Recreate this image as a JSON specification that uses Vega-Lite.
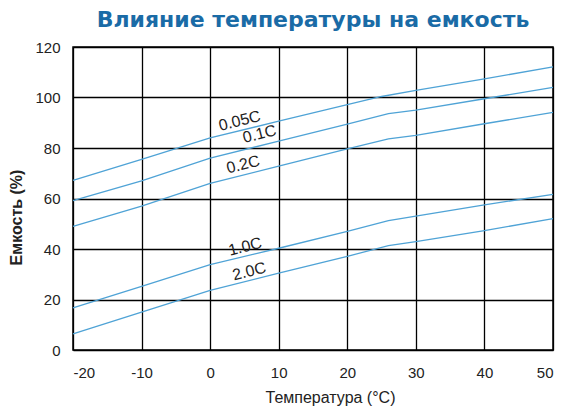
{
  "$schema": "https://vega.github.io/schema/vega-lite/v6.json",
  "autosize": "none",
  "width": 480,
  "height": 303,
  "padding": {"left": 73, "top": 47, "right": 22, "bottom": 60},
  "background": "white",
  "title": {
    "text": "Влияние температуры на емкость",
    "anchor": "middle",
    "font": "DejaVu Sans",
    "fontSize": 22,
    "fontWeight": "bold",
    "color": "#1a6ba6",
    "baseline": "alphabetic",
    "offset": -9
  },
  "config": {
    "view": {"stroke": "black", "strokeWidth": 1.5},
    "axis": {
      "labelFont": "Liberation Sans",
      "labelFontSize": 15,
      "labelColor": "#222",
      "titleFont": "Liberation Sans",
      "titleFontSize": 16,
      "titleFontWeight": "normal",
      "titleColor": "#222",
      "grid": true,
      "gridColor": "black",
      "gridOpacity": 1,
      "gridWidth": 1.3,
      "ticks": false,
      "domain": false
    }
  },
  "datasets": {
    "curves": [
      {"t": -20, "c": 67.2, "s": "0.05C"}, {"t": -10, "c": 75.5, "s": "0.05C"}, {"t": 0, "c": 84, "s": "0.05C"}, {"t": 10, "c": 90.6, "s": "0.05C"}, {"t": 20, "c": 97.2, "s": "0.05C"}, {"t": 25, "c": 100.4, "s": "0.05C"}, {"t": 30, "c": 102.8, "s": "0.05C"}, {"t": 40, "c": 107.4, "s": "0.05C"}, {"t": 50, "c": 112.1, "s": "0.05C"},
      {"t": -20, "c": 59.2, "s": "0.1C"}, {"t": -10, "c": 67, "s": "0.1C"}, {"t": 0, "c": 76, "s": "0.1C"}, {"t": 10, "c": 82.7, "s": "0.1C"}, {"t": 20, "c": 89.5, "s": "0.1C"}, {"t": 26, "c": 93.6, "s": "0.1C"}, {"t": 30, "c": 95, "s": "0.1C"}, {"t": 40, "c": 99.5, "s": "0.1C"}, {"t": 50, "c": 104, "s": "0.1C"},
      {"t": -20, "c": 49, "s": "0.2C"}, {"t": -10, "c": 57, "s": "0.2C"}, {"t": 0, "c": 66, "s": "0.2C"}, {"t": 10, "c": 72.8, "s": "0.2C"}, {"t": 20, "c": 79.7, "s": "0.2C"}, {"t": 26, "c": 83.6, "s": "0.2C"}, {"t": 30, "c": 85, "s": "0.2C"}, {"t": 40, "c": 89.6, "s": "0.2C"}, {"t": 50, "c": 94.1, "s": "0.2C"},
      {"t": -20, "c": 16.7, "s": "1.0C"}, {"t": -10, "c": 25.2, "s": "1.0C"}, {"t": 0, "c": 33.8, "s": "1.0C"}, {"t": 10, "c": 40.3, "s": "1.0C"}, {"t": 20, "c": 47, "s": "1.0C"}, {"t": 26, "c": 51.2, "s": "1.0C"}, {"t": 30, "c": 53, "s": "1.0C"}, {"t": 40, "c": 57.5, "s": "1.0C"}, {"t": 50, "c": 61.6, "s": "1.0C"},
      {"t": -20, "c": 6.4, "s": "2.0C"}, {"t": -10, "c": 15, "s": "2.0C"}, {"t": 0, "c": 23.6, "s": "2.0C"}, {"t": 10, "c": 30.4, "s": "2.0C"}, {"t": 20, "c": 37.1, "s": "2.0C"}, {"t": 26, "c": 41.3, "s": "2.0C"}, {"t": 30, "c": 42.9, "s": "2.0C"}, {"t": 40, "c": 47.3, "s": "2.0C"}, {"t": 50, "c": 52, "s": "2.0C"}
    ],
    "labels": [
      {"t": 4.3, "c": 90.7, "s": "0.05C"},
      {"t": 7.2, "c": 85.5, "s": "0.1C"},
      {"t": 4.8, "c": 73.4, "s": "0.2C"},
      {"t": 5.1, "c": 40.9, "s": "1.0C"},
      {"t": 5.7, "c": 31.1, "s": "2.0C"}
    ]
  },
  "layer": [
    {
      "data": {"name": "curves"},
      "mark": {"type": "line", "color": "#4fa3d6", "strokeWidth": 1.3},
      "encoding": {
        "x": {
          "field": "t", "type": "quantitative",
          "scale": {"domain": [-20, 50], "nice": false},
          "axis": {"values": [-20, -10, 0, 10, 20, 30, 40, 50], "labelExpr": "toString(datum.value)", "title": "Температура (°C)", "labelPadding": 15, "titleBaseline": "alphabetic", "titleY": 52, "titleX": 257, "titleAnchor": null}
        },
        "y": {
          "field": "c", "type": "quantitative",
          "scale": {"domain": [0, 120], "nice": false},
          "axis": {"values": [0, 20, 40, 60, 80, 100, 120], "title": "Емкость (%)", "titleFontWeight": "bold", "labelPadding": 13, "titleX": -52, "titleY": 170, "titleAngle": -90, "titleAlign": "center", "titleBaseline": "alphabetic"}
        },
        "detail": {"field": "s"}
      }
    },
    {
      "data": {"name": "labels"},
      "mark": {"type": "text", "font": "Liberation Sans", "fontSize": 16, "color": "#222", "angle": -14, "align": "center", "baseline": "middle"},
      "encoding": {
        "x": {"field": "t", "type": "quantitative"},
        "y": {"field": "c", "type": "quantitative"},
        "text": {"field": "s"}
      }
    }
  ]
}
